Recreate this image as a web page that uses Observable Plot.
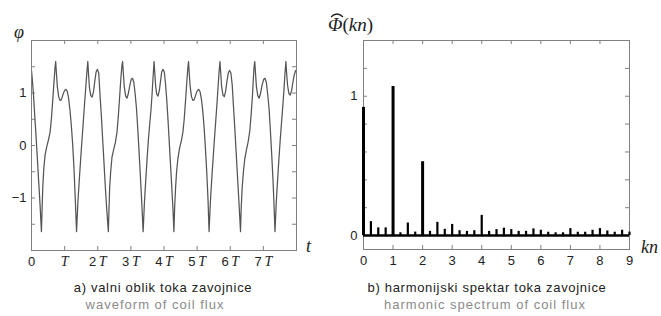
<!DOCTYPE html>
<html><head><meta charset="utf-8">
<script src="https://cdn.jsdelivr.net/npm/d3@7"></script>
<script src="https://cdn.jsdelivr.net/npm/@observablehq/plot@0.6"></script>
<style>
html,body{margin:0;padding:0;background:#fff;}
#root{position:relative;width:661px;height:316px;overflow:hidden;font-family:"Liberation Sans",Arial,sans-serif;}
.abs{position:absolute;white-space:nowrap;line-height:1;}
.cap{font-size:13px;color:#222;transform:translateX(-50%);letter-spacing:0.7px;}
.sub{font-size:13px;color:#8a8a8a;transform:translateX(-50%);letter-spacing:1px;}
.math{font-family:"Liberation Serif","DejaVu Serif",serif;font-style:italic;color:#222;}
.up{font-style:normal;}
</style></head><body><div id="root">
<div id="left" class="abs" style="left:0;top:0"></div>
<div id="right" class="abs" style="left:330px;top:0"></div>
<div class="abs math" style="left:14px;top:23px;font-size:18px">φ</div>
<div class="abs math" style="left:306px;top:237px;font-size:18px">t</div>
<div class="abs math" style="left:641px;top:238px;font-size:18px">kn</div>
<div class="abs math" style="left:328px;top:15px;font-size:19px"><span style="position:relative;display:inline-block">Φ<svg style="position:absolute;left:2px;top:-3px" width="14" height="6"><path d="M1,5 Q7,-1 13,5" fill="none" stroke="#222" stroke-width="1.2"/></svg></span><span class="up">(</span>kn<span class="up">)</span></div>
<div class="abs cap" style="left:163px;top:281px">a) valni oblik toka zavojnice</div>
<div class="abs sub" style="left:155px;top:298px">waveform of coil flux</div>
<div class="abs cap" style="left:487px;top:281px">b) harmonijski spektar toka zavojnice</div>
<div class="abs sub" style="left:485px;top:298px">harmonic spectrum of coil flux</div>
</div>
<script>
// ---- panel a: coil flux waveform (t in periods T, phi) ----
const flux = [
[0.00,1.43],[0.03,1.22],[0.06,0.96],[0.10,0.55],[0.14,0.15],[0.18,-0.28],[0.22,-0.72],[0.26,-1.15],[0.30,-1.64],
[0.32,-1.20],[0.34,-0.80],[0.37,-0.45],[0.41,-0.18],[0.46,-0.02],[0.51,0.10],[0.56,0.25],[0.60,0.50],[0.64,0.85],[0.68,1.22],[0.71,1.48],[0.73,1.60],
[0.75,1.40],[0.78,1.12],[0.82,0.93],[0.86,0.86],[0.90,0.87],[0.95,0.97],[1.00,1.05],[1.04,1.07],[1.08,1.03],[1.12,0.90],[1.16,0.68],
[1.20,0.40],[1.24,0.05],[1.28,-0.40],[1.32,-1.00],[1.36,-1.64],
[1.40,-1.08],[1.44,-0.68],[1.48,-0.30],[1.52,0.07],[1.56,0.42],[1.60,0.78],[1.64,1.12],[1.67,1.38],[1.70,1.60],
[1.72,1.38],[1.75,1.10],[1.79,0.95],[1.83,0.92],[1.87,1.02],[1.91,1.22],[1.95,1.40],[1.99,1.45],[2.03,1.38],[2.07,0.95],
[2.11,0.55],[2.15,0.10],[2.19,-0.35],[2.23,-0.80],[2.27,-1.20],[2.32,-1.64],
[2.34,-1.20],[2.36,-0.80],[2.39,-0.50],[2.43,-0.22],[2.48,-0.08],[2.53,0.05],[2.58,0.25],[2.62,0.55],[2.66,0.92],[2.70,1.30],[2.73,1.52],[2.75,1.60],
[2.77,1.40],[2.80,1.12],[2.84,0.95],[2.88,0.90],[2.92,0.98],[2.97,1.15],[3.01,1.26],[3.05,1.28],[3.09,1.20],[3.13,0.98],[3.17,0.70],
[3.21,0.30],[3.25,-0.15],[3.29,-0.62],[3.33,-1.10],[3.37,-1.64],
[3.41,-1.08],[3.45,-0.65],[3.49,-0.25],[3.53,0.12],[3.57,0.42],[3.61,0.70],[3.64,0.98],[3.67,1.30],[3.70,1.60],
[3.72,1.40],[3.75,1.12],[3.78,0.98],[3.82,0.94],[3.86,1.05],[3.90,1.25],[3.93,1.40],[3.97,1.45],[4.01,1.40],[4.04,1.22],
[4.08,0.90],[4.12,0.50],[4.16,0.05],[4.20,-0.40],[4.24,-0.85],[4.27,-1.20],[4.30,-1.64],
[4.32,-1.20],[4.35,-0.80],[4.38,-0.50],[4.42,-0.25],[4.47,-0.05],[4.52,0.08],[4.57,0.25],[4.61,0.50],[4.65,0.85],[4.69,1.22],[4.72,1.48],[4.74,1.60],
[4.76,1.40],[4.79,1.12],[4.83,0.93],[4.87,0.86],[4.91,0.87],[4.96,0.97],[5.01,1.05],[5.05,1.07],[5.09,1.02],[5.13,0.88],[5.17,0.66],
[5.21,0.35],[5.25,-0.05],[5.29,-0.50],[5.33,-1.05],[5.36,-1.64],
[5.40,-1.08],[5.44,-0.65],[5.48,-0.27],[5.52,0.10],[5.56,0.45],[5.60,0.80],[5.63,1.10],[5.66,1.38],[5.69,1.60],
[5.71,1.40],[5.74,1.12],[5.78,0.96],[5.82,0.93],[5.86,1.03],[5.90,1.22],[5.94,1.38],[5.98,1.43],[6.02,1.38],[6.06,1.15],
[6.10,0.72],[6.14,0.30],[6.18,-0.15],[6.22,-0.60],[6.26,-1.05],[6.31,-1.64],
[6.33,-1.20],[6.36,-0.80],[6.40,-0.48],[6.44,-0.25],[6.49,-0.08],[6.54,0.07],[6.59,0.28],[6.63,0.58],[6.67,0.95],[6.70,1.30],[6.72,1.50],[6.74,1.60],
[6.76,1.40],[6.79,1.12],[6.83,0.95],[6.87,0.90],[6.91,0.98],[6.96,1.15],[7.01,1.26],[7.05,1.28],[7.09,1.20],[7.13,0.98],[7.17,0.72],
[7.21,0.30],[7.25,-0.15],[7.29,-0.65],[7.32,-1.10],[7.35,-1.64],
[7.39,-1.08],[7.43,-0.65],[7.47,-0.25],[7.51,0.12],[7.55,0.45],[7.59,0.78],[7.62,1.05],[7.65,1.35],[7.68,1.60],
[7.70,1.40],[7.73,1.15],[7.77,0.99],[7.81,0.96],[7.85,1.04],[7.89,1.20],[7.93,1.34],[7.97,1.42],[8.00,1.44]
];
const leftXTicks = [0,1,2,3,4,5,6,7];
const leftXLabels = ["0","T","2T","3T","4T","5T","6T","7T"];
const leftXMinor = [1,2,3,4,5,6,7];
const leftYTicks = [-1,0,1];
const leftYLabels = ["\u22121","0","1"];
const leftYMinor = [-1.5,-1,-0.5,0,0.5,1,1.5];

// ---- panel b: harmonic spectrum ----
const kn = [0,0.25,0.5,0.75,1,1.25,1.5,1.75,2,2.25,2.5,2.75,3,3.25,3.5,3.75,4,4.25,4.5,4.75,5,5.25,5.5,5.75,6,6.25,6.5,6.75,7,7.25,7.5,7.75,8,8.25,8.5,8.75,9];
const amp = [0.92,0.10,0.055,0.055,1.07,0.02,0.09,0.025,0.53,0.03,0.095,0.045,0.08,0.035,0.03,0.035,0.145,0.03,0.043,0.053,0.043,0.03,0.03,0.048,0.038,0.024,0.02,0.02,0.05,0.024,0.024,0.038,0.05,0.033,0.024,0.038,0.025];
const rightXTicks = [0,1,2,3,4,5,6,7,8,9];
const rightXMinor = [1,2,3,4,5,6,7,8];
const rightYTicks = [0,1];
const rightYMinor = [0.2,0.4,0.6,0.8,1.0,1.2];

const frameColor = "#808080";
const baseStyle = {fontFamily:"'Liberation Sans', Arial, sans-serif", fontSize:"13px", color:"#222", background:"transparent", overflow:"visible"};

// inward tick marks drawn as short rules inside the frame (length ~4px)
function innerTicks(xs, ys, xDom, yDom, lx, ly) {
  return [
    Plot.ruleX(xs, {x:d=>d, y1:yDom[0], y2:yDom[0]+ly, stroke:frameColor}),
    Plot.ruleX(xs, {x:d=>d, y1:yDom[1], y2:yDom[1]-ly, stroke:frameColor}),
    Plot.ruleY(ys, {y:d=>d, x1:xDom[0], x2:xDom[0]+lx, stroke:frameColor}),
    Plot.ruleY(ys, {y:d=>d, x1:xDom[1], x2:xDom[1]-lx, stroke:frameColor})
  ];
}

const lxDom = [0,8], lyDom = [-2,2];
const left = Plot.plot({
  width:330, height:316,
  marginLeft:31, marginRight:34, marginTop:40, marginBottom:66,
  x:{domain:lxDom}, y:{domain:lyDom},
  style: baseStyle,
  marks:[
    ...innerTicks(leftXMinor, leftYMinor, lxDom, lyDom, 0.12, 0.076),
    Plot.axisX(leftXTicks, {anchor:"bottom", tickSize:0, tickPadding:6, label:null, fill:"#222", tickFormat:d=>leftXLabels[leftXTicks.indexOf(d)]}),
    Plot.axisY(leftYTicks, {anchor:"left", tickSize:0, tickPadding:5, label:null, fill:"#222", tickFormat:d=>leftYLabels[leftYTicks.indexOf(d)]}),
    Plot.line(flux, {x:d=>d[0], y:d=>d[1], stroke:"#555", strokeWidth:1.25}),
    Plot.frame({stroke:frameColor})
  ]
});
document.getElementById("left").appendChild(left);

const rxDom = [0,9], ryDom = [-0.1,1.4];
const spectrum = kn.map((k,i)=>({kn:k, amp:amp[i]}));
const right = Plot.plot({
  width:331, height:316,
  marginLeft:33, marginRight:32, marginTop:40, marginBottom:67,
  x:{domain:rxDom}, y:{domain:ryDom},
  style: baseStyle,
  marks:[
    ...innerTicks(rightXMinor, rightYMinor, rxDom, ryDom, 0.135, 0.029),
    Plot.axisX(rightXTicks, {anchor:"bottom", tickSize:0, tickPadding:6, label:null, fill:"#222", tickFormat:d=>String(d)}),
    Plot.axisY(rightYTicks, {anchor:"left", tickSize:0, tickPadding:6, label:null, fill:"#222", tickFormat:d=>String(d)}),
    Plot.frame({stroke:frameColor}),
    Plot.ruleY([0], {stroke:"#000", strokeWidth:2.6}),
    Plot.ruleX(spectrum, {x:"kn", y1:0, y2:"amp", stroke:"#000", strokeWidth:d=>d.amp>0.3?3:2.2})
  ]
});
document.getElementById("right").appendChild(right);

// mixed fonts for the T labels
left.querySelectorAll('g[aria-label="x-axis tick label"] text').forEach(t=>{
  const s = t.textContent;
  if (s.includes("T")) {
    const num = s.replace("T","");
    t.textContent = "";
    const ns = "http://www.w3.org/2000/svg";
    if (num) { const a = document.createElementNS(ns,"tspan"); a.textContent = num + "\u2009"; t.appendChild(a); }
    const b = document.createElementNS(ns,"tspan");
    b.textContent = "T";
    b.setAttribute("font-family","'Liberation Serif', serif");
    b.setAttribute("font-style","italic");
    b.setAttribute("font-size","14");
    t.appendChild(b);
  }
});
</script>
</body></html>
